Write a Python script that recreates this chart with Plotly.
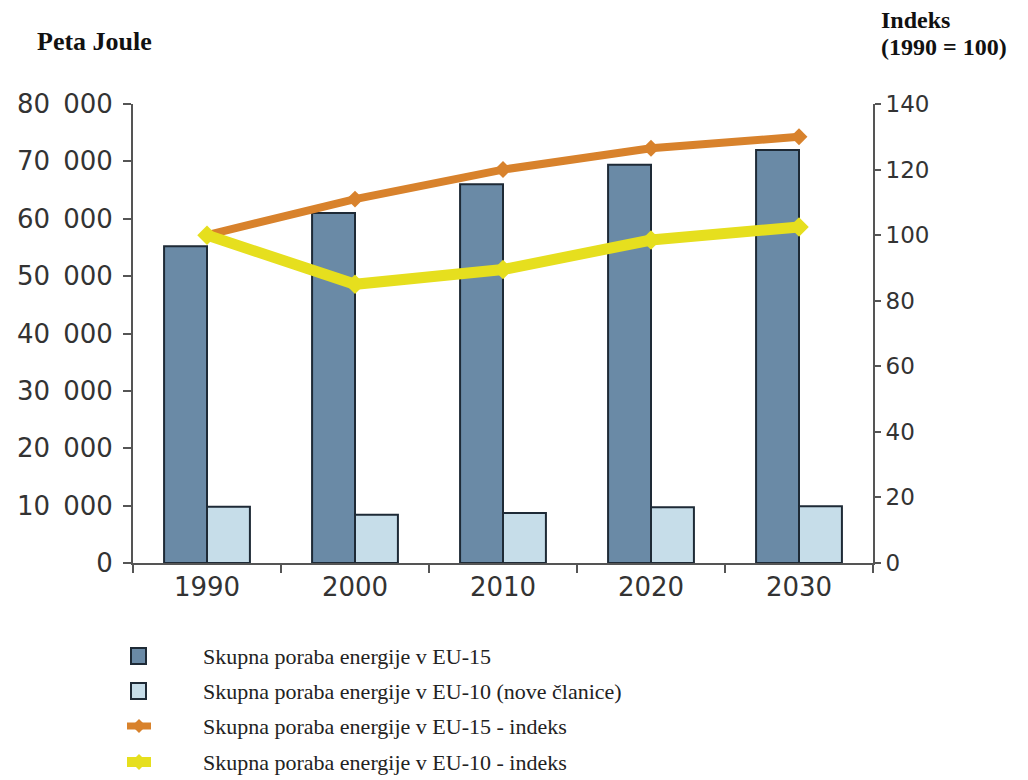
import plotly.graph_objects as go

years = ["1990", "2000", "2010", "2020", "2030"]
eu15_pj = [55200, 61000, 66000, 69400, 72000]
eu10_pj = [9800, 8400, 8700, 9700, 9900]
eu15_index = [100, 111, 120, 126.5, 130]
eu10_index = [100, 85, 89.5, 98.5, 102.5]

left_ticks = [0, 10000, 20000, 30000, 40000, 50000, 60000, 70000, 80000]
left_tick_text = ["0", "10\u2002000", "20\u2002000", "30\u2002000", "40\u2002000",
                  "50\u2002000", "60\u2002000", "70\u2002000", "80\u2002000"]
right_ticks = [0, 20, 40, 60, 80, 100, 120, 140]

names = [
    "Skupna poraba energije v EU-15",
    "Skupna poraba energije v EU-10 (nove članice)",
    "Skupna poraba energije v EU-15 - indeks",
    "Skupna poraba energije v EU-10 - indeks",
]

axis_col = "#555555"
dark_edge = "#1e2a36"
col_eu15 = "#6a8aa6"
col_eu10 = "#c6dde9"
col_idx15 = "#d8822c"
col_idx10 = "#e6df1e"
serif = "Liberation Serif, Times New Roman, serif"
sans = "DejaVu Sans, Verdana, sans-serif"

W, H = 1028, 780
M_L, M_R, M_T, M_B = 133, 155, 104, 217
PW, PH = W - M_L - M_R, H - M_T - M_B


def px_x(x):
    # pixel column -> paper x
    return (x - M_L) / PW


def px_y(y):
    # pixel row -> paper y
    return (H - M_B - y) / PH


fig = go.Figure()
fig.add_trace(go.Bar(x=years, y=eu15_pj, name=names[0], showlegend=False,
                     marker=dict(color=col_eu15, line=dict(color=dark_edge, width=2))))
fig.add_trace(go.Bar(x=years, y=eu10_pj, name=names[1], showlegend=False,
                     marker=dict(color=col_eu10, line=dict(color=dark_edge, width=2))))
fig.add_trace(go.Scatter(x=years, y=eu15_index, name=names[2], yaxis="y2", showlegend=False,
                         mode="lines+markers",
                         line=dict(color=col_idx15, width=8),
                         marker=dict(symbol="diamond", size=13, color=col_idx15)))
fig.add_trace(go.Scatter(x=years, y=eu10_index, name=names[3], yaxis="y2", showlegend=False,
                         mode="lines+markers",
                         line=dict(color=col_idx10, width=11),
                         marker=dict(symbol="diamond", size=15, color=col_idx10)))

# Key below the chart: swatches drawn as shapes, labels as annotations
row_y = [656, 691, 726, 762]
shapes = []
annotations = []
for i, (name, yy) in enumerate(zip(names, row_y)):
    if i < 2:
        fill = col_eu15 if i == 0 else col_eu10
        shapes.append(dict(type="rect", xref="paper", yref="paper",
                           x0=px_x(131), x1=px_x(146), y0=px_y(yy + 8), y1=px_y(yy - 8),
                           fillcolor=fill, line=dict(color=dark_edge, width=2)))
    else:
        colr = col_idx15 if i == 2 else col_idx10
        lw = 7 if i == 2 else 10
        shapes.append(dict(type="line", xref="paper", yref="paper",
                           x0=px_x(127), x1=px_x(151), y0=px_y(yy), y1=px_y(yy),
                           line=dict(color=colr, width=lw)))
        d = 7 if i == 2 else 8
        path = (f"M{px_x(139 - d)},{px_y(yy)} L{px_x(139)},{px_y(yy - d)} "
                f"L{px_x(139 + d)},{px_y(yy)} L{px_x(139)},{px_y(yy + d)} Z")
        shapes.append(dict(type="path", xref="paper", yref="paper", path=path,
                           fillcolor=colr, line=dict(color=colr, width=0)))
    annotations.append(dict(text=name, xref="paper", yref="paper", x=px_x(201), y=px_y(yy),
                            xanchor="left", yanchor="middle", showarrow=False,
                            font=dict(family=serif, size=22, color="#222222")))

annotations += [
    dict(text="<b>Peta Joule</b>", xref="paper", yref="paper", x=px_x(35), y=px_y(42),
         xanchor="left", yanchor="middle", showarrow=False,
         font=dict(family=serif, size=26, color="#111111")),
    dict(text="<b>Indeks</b>", xref="paper", yref="paper", x=px_x(879), y=px_y(20),
         xanchor="left", yanchor="middle", showarrow=False,
         font=dict(family=serif, size=24, color="#111111")),
    dict(text="<b>(1990 = 100)</b>", xref="paper", yref="paper", x=px_x(879), y=px_y(47),
         xanchor="left", yanchor="middle", showarrow=False,
         font=dict(family=serif, size=24, color="#111111")),
]

fig.update_layout(
    width=W, height=H,
    margin=dict(l=M_L, r=M_R, t=M_T, b=M_B),
    plot_bgcolor="white", paper_bgcolor="white",
    barmode="group", bargap=0.42, bargroupgap=0,
    showlegend=False,
    xaxis=dict(type="category", range=[-0.5, 4.5], showline=True, linecolor=axis_col,
               linewidth=2, ticks="outside", tickson="boundaries", ticklen=8,
               tickcolor=axis_col, tickwidth=2, showgrid=False,
               tickfont=dict(family=sans, size=26, color="#333333")),
    yaxis=dict(range=[0, 80000], tickvals=left_ticks, ticktext=left_tick_text,
               showline=True, linecolor=axis_col, linewidth=2, ticks="outside",
               ticklen=8, tickcolor=axis_col, tickwidth=2, showgrid=False,
               zeroline=False, ticklabelstandoff=5,
               tickfont=dict(family=sans, size=26, color="#333333")),
    yaxis2=dict(range=[0, 140], tickvals=right_ticks, overlaying="y", side="right",
                showline=True, linecolor=axis_col, linewidth=2, ticks="outside",
                ticklen=6, tickcolor=axis_col, tickwidth=2, showgrid=False,
                zeroline=False, ticklabelstandoff=0,
                tickfont=dict(family=sans, size=23, color="#333333")),
    shapes=shapes,
    annotations=annotations,
)

fig.write_html("out.html")
